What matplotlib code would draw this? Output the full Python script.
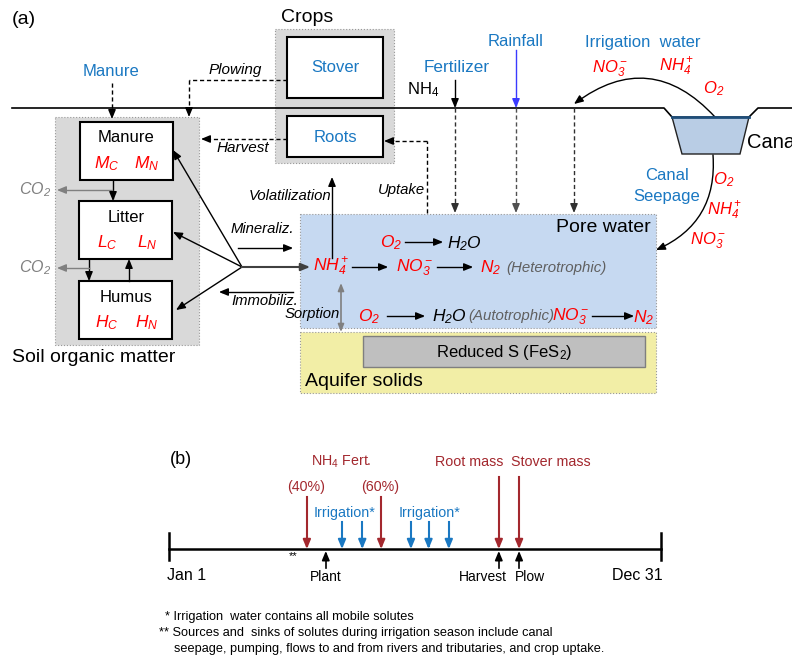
import matplotlib.pyplot as plt
from matplotlib.patches import Rectangle, Polygon, FancyArrowPatch
import numpy as np

# === CONFIG ===
plt.rcParams['font.family'] = ['Liberation Sans', 'DejaVu Sans']
plt.rcParams['mathtext.default'] = 'regular'

BLUE = '#1a78c2'
RED = '#ff0000'
DRED = '#a3282e'
GRAY = '#606060'

# === TIMELINE DATA (day of year) ===
fert_days = [103, 158]
fert_labels = ['(40%)', '(60%)']
irrig_days = [129, 144, 180, 193, 208]
irrig_label_days = [130, 193]
crop_mass_days = [245, 260]
crop_mass_labels = ['Root mass', 'Stover mass']
field_days = [117, 245, 260]
field_labels = ['Plant', 'Harvest', 'Plow']
field_label_dx = [0, -16, 11]
season_day = 93

# === FIGURE ===
fig = plt.figure(figsize=(7.92, 6.68), dpi=100)
ax = fig.add_axes([0, 0, 1, 1])
ax.set_xlim(0, 792)
ax.set_ylim(668, 0)
ax.axis('off')


def arrow(x0, y0, x1, y1, color='k', ls='-', lw=1.0, ms=9):
    # line drawn with plot, head drawn solid at the end
    d = np.hypot(x1 - x0, y1 - y0)
    ux, uy = (x1 - x0) / d, (y1 - y0) / d
    ax.plot([x0, x1 - ux * 3], [y0, y1 - uy * 3], color=color, ls=ls, lw=lw)
    ax.annotate('', xy=(x1, y1), xytext=(x1 - ux * 7, y1 - uy * 7),
                arrowprops=dict(arrowstyle='-|>,head_length=0.6,head_width=0.25',
                                mutation_scale=ms, color=color, lw=lw,
                                shrinkA=0, shrinkB=0))


def label(x, y, s, size=11, color='k', ha='center', italic=False, **kw):
    ax.text(x, y, s, fontsize=size, color=color, ha=ha, va='center',
            style='italic' if italic else 'normal', **kw)


DASH = (0, (3, 2))

# ---------- panel (a) ----------
label(12, 20, '(a)', size=14, ha='left')

# ground line and canal
ax.plot([12, 664, 672], [108, 108, 117], color='k', lw=1.2)
ax.plot([749, 758, 792], [117, 108, 108], color='k', lw=1.2)
ax.add_patch(Polygon([(672, 117), (749, 117), (740, 154), (682, 154)],
                     closed=True, fc='#b9cde5', ec='#222222', lw=1))
ax.plot([672, 749], [117, 117], color='#1f4e79', lw=2)
label(747, 143, 'Canal', size=14.5, ha='left')

# crops
label(307, 18, 'Crops', size=14)
ax.add_patch(Rectangle((275, 29), 119, 134, fc='#d9d9d9', ec='#999999', ls=':', lw=0.8))
ax.add_patch(Rectangle((287, 37), 96, 61, fc='white', ec='k', lw=1.5))
ax.add_patch(Rectangle((287, 116), 96, 41, fc='white', ec='k', lw=1.5))
label(335, 68, 'Stover', size=12, color=BLUE)
label(335, 137, 'Roots', size=12, color=BLUE)

# soil organic matter
ax.add_patch(Rectangle((55, 117), 144, 228, fc='#d9d9d9', ec='#999999', ls=':', lw=0.8))
for (bx, by), name, sym in [((80, 122), 'Manure', 'M'), ((79, 201), 'Litter', 'L'),
                            ((79, 281), 'Humus', 'H')]:
    ax.add_patch(Rectangle((bx, by), 93, 58, fc='white', ec='k', lw=1.5))
    label(126, by + 16, name, size=12)
    label(107, by + 42, '$%s_C$' % sym, size=12.5, color=RED, italic=True)
    label(147, by + 42, '$%s_N$' % sym, size=12.5, color=RED, italic=True)
label(12, 357, 'Soil organic matter', size=14, ha='left')

arrow(113, 180, 113, 201)
arrow(89, 259, 89, 281)
arrow(129, 281, 129, 259)
arrow(112, 190, 57, 190, color='#808080')
arrow(89, 268, 57, 268, color='#808080')
label(35, 190, '$CO_2$', size=11.5, color='#808080', italic=True)
label(35, 268, '$CO_2$', size=11.5, color='#808080', italic=True)

# junction of mineralization / immobilization
jx, jy = 242, 267
arrow(jx, jy, 173, 150)
arrow(jx, jy, 173, 232)
arrow(jx, jy, 176, 310)
arrow(jx, jy, 310, jy, color='#404040', lw=1.5)
arrow(238, 248, 293, 248)
arrow(293, 292, 219, 292)
label(262, 229, 'Mineraliz.', size=10.7, italic=True)
label(265, 301, 'Immobiliz.', size=10.7, italic=True)

# manure / plowing / harvest inputs
label(111, 72, 'Manure', size=12, color=BLUE)
arrow(112, 83, 112, 119, ls=DASH)
ax.plot([287, 189], [80, 80], color='k', ls=DASH, lw=1)
arrow(189, 80, 189, 117, ls=DASH)
label(235, 70, 'Plowing', size=11, italic=True)
arrow(287, 139, 201, 139, ls=DASH)
label(243, 148, 'Harvest', size=11, italic=True)

# volatilization / uptake
arrow(332, 258, 332, 177)
label(331, 196, 'Volatilization', size=10.7, italic=True, ha='right')
ax.plot([427, 427], [213, 141], color='k', ls=DASH, lw=1)
arrow(427, 141, 384, 141, ls=DASH)
label(425, 190, 'Uptake', size=10.7, italic=True, ha='right')

# surface inputs
label(457, 68, 'Fertilizer', size=12.3, color=BLUE)
label(423, 90, 'NH$_4$', size=12)
arrow(455, 80, 455, 108)
arrow(455, 108, 455, 213, ls=DASH, color='#303030')
label(516, 42, 'Rainfall', size=12, color=BLUE)
arrow(516, 50, 516, 108, color='#3a3aff')
arrow(516, 108, 516, 213, ls=DASH, color='#505050')
arrow(574, 108, 574, 213, ls=DASH, color='#303030')

# irrigation water arc
ax.add_patch(FancyArrowPatch((715, 117), (574, 104), connectionstyle='arc3,rad=0.45',
                             arrowstyle='-|>,head_length=0.6,head_width=0.25',
                             mutation_scale=9, color='k', lw=1, shrinkA=0, shrinkB=0))
label(643, 42, 'Irrigation  water', size=12, color=BLUE)
label(610, 69, '$NO_3^-$', size=12, color=RED, italic=True)
label(676, 67, '$NH_4^+$', size=12, color=RED, italic=True)
label(714, 89, '$O_2$', size=12, color=RED, italic=True)

# canal seepage arc
ax.add_patch(FancyArrowPatch((713, 155), (656, 250), connectionstyle='arc3,rad=-0.35',
                             arrowstyle='-|>,head_length=0.6,head_width=0.25',
                             mutation_scale=9, color='k', lw=1, shrinkA=0, shrinkB=0))
label(667, 176, 'Canal', size=12, color=BLUE)
label(667, 196, 'Seepage', size=12, color=BLUE)
label(724, 180, '$O_2$', size=12, color=RED, italic=True)
label(724, 211, '$NH_4^+$', size=12, color=RED, italic=True)
label(708, 241, '$NO_3^-$', size=12, color=RED, italic=True)

# pore water
ax.add_patch(Rectangle((300, 214), 356, 114, fc='#c6d9f1', ec='#999999', ls=':', lw=0.8))
label(651, 227, 'Pore water', size=14, ha='right')
label(391, 243, '$O_2$', size=12.5, color=RED, italic=True)
arrow(405, 242, 443, 242)
label(464, 244, '$H_2O$', size=12.5, italic=True)
label(331, 267, '$NH_4^+$', size=12.5, color=RED, italic=True)
arrow(352, 267, 388, 267)
label(415, 268, '$NO_3^-$', size=12.5, color=RED, italic=True)
arrow(437, 267, 473, 267)
label(491, 268, '$N_2$', size=12.5, color=RED, italic=True)
label(556, 268, '(Heterotrophic)', size=10.8, color=GRAY, italic=True)
label(369, 317, '$O_2$', size=12.5, color=RED, italic=True)
arrow(387, 316, 425, 316)
label(449, 317, '$H_2O$', size=12.5, italic=True)
label(511, 316, '(Autotrophic)', size=10.8, color=GRAY, italic=True)
label(571, 317, '$NO_3^-$', size=12.5, color=RED, italic=True)
arrow(592, 316, 634, 316)
label(644, 318, '$N_2$', size=12.5, color=RED, italic=True)

# aquifer solids
ax.add_patch(Rectangle((300, 332), 356, 61, fc='#f2eea6', ec='#999999', ls=':', lw=0.8))
ax.add_patch(Rectangle((363, 336), 282, 31, fc='#bfbfbf', ec='#7f7f7f', lw=1))
label(504, 352, 'Reduced S (FeS$_2$)', size=12, ha='center')
label(305, 381, 'Aquifer solids', size=14, ha='left')

# sorption (double arrow)
ax.annotate('', xy=(341, 332), xytext=(341, 283),
            arrowprops=dict(arrowstyle='<|-|>,head_length=0.5,head_width=0.2',
                            mutation_scale=9, color='#808080', lw=1.2,
                            shrinkA=0, shrinkB=0))
label(312, 314, 'Sorption', size=10.7, italic=True)

# ---------- panel (b) ----------
X0, X1, TY = 169, 661, 549


def day_x(d):
    return X0 + (d - 1) * (X1 - X0) / 364.0


label(170, 459, '(b)', size=13, ha='left')
ax.plot([X0, X1], [TY, TY], color='k', lw=1.8)
ax.plot([X0, X0], [533, 560], color='k', lw=1.8)
ax.plot([X1, X1], [533, 560], color='k', lw=1.8)
label(167, 576, 'Jan 1', size=11.5, ha='left')
label(663, 576, 'Dec 31', size=11.5, ha='right')

for d, s in zip(fert_days, fert_labels):
    arrow(day_x(d), 497, day_x(d), TY, color=DRED, lw=1.5)
    label(day_x(d) - 1, 487, s, size=10.3, color=DRED)
label(day_x(129) - 1, 462, 'NH$_4$ Fert.', size=10.3, color=DRED)

for d in irrig_days:
    arrow(day_x(d), 522, day_x(d), TY, color=BLUE, lw=1.5)
for d in irrig_label_days:
    label(day_x(d) + 1, 513, 'Irrigation*', size=10.3, color=BLUE)

for d, s, dx in zip(crop_mass_days, crop_mass_labels, [-30, 32]):
    arrow(day_x(d), 477, day_x(d), TY, color=DRED, lw=1.5)
    label(day_x(d) + dx, 462, s, size=10.3, color=DRED)

for d, s, dx in zip(field_days, field_labels, field_label_dx):
    arrow(day_x(d), 568, day_x(d), 551, color='k', lw=1.2)
    label(day_x(d) + dx, 577, s, size=10)

label(day_x(season_day), 556, '**', size=8)

# footnotes
ax.text(165, 617, '* Irrigation  water contains all mobile solutes', fontsize=9.2, va='center')
ax.text(159, 633, '** Sources and  sinks of solutes during irrigation season include canal',
        fontsize=9.2, va='center')
ax.text(174, 649, 'seepage, pumping, flows to and from rivers and tributaries, and crop uptake.',
        fontsize=9.2, va='center')

fig.savefig('out.png', dpi=100)
